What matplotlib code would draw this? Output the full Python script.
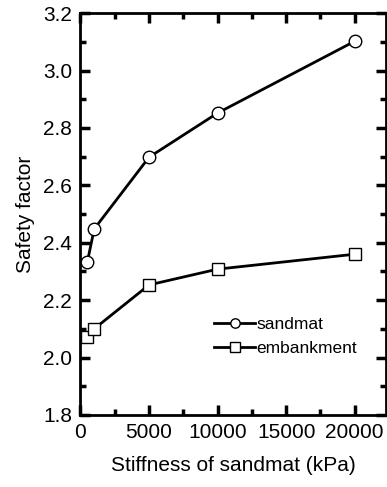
import matplotlib
matplotlib.use("Agg")
import matplotlib.pyplot as plt
from matplotlib.ticker import MultipleLocator

plt.rcParams["font.family"] = ["Liberation Sans", "DejaVu Sans"]

stiffness = [500, 1000, 5000, 10000, 20000]
sandmat = [2.333, 2.448, 2.698, 2.852, 3.102]
embankment = [2.072, 2.100, 2.253, 2.308, 2.360]

fig = plt.figure(figsize=(3.87, 4.87), dpi=100)
ax = fig.add_axes([0.208, 0.148, 0.79, 0.825])

ax.plot(stiffness, sandmat, "k-", marker="o", ms=9, mfc="white", mec="black",
        mew=1.0, lw=2, label="sandmat")
ax.plot(stiffness, embankment, "k-", marker="s", ms=9, mfc="white", mec="black",
        mew=1.0, lw=2, label="embankment")

ax.set_xlim(0, 22300)
ax.set_ylim(1.8, 3.2)
ax.xaxis.set_major_locator(MultipleLocator(5000))
ax.xaxis.set_minor_locator(MultipleLocator(2500))
ax.yaxis.set_major_locator(MultipleLocator(0.2))
ax.yaxis.set_minor_locator(MultipleLocator(0.1))
ax.yaxis.set_major_formatter(matplotlib.ticker.FormatStrFormatter("%.1f"))

ax.tick_params(which="both", direction="in", top=True, right=True, width=2.5,
               labelsize=15)
ax.tick_params(which="major", length=7)
ax.tick_params(which="minor", length=4)
ax.tick_params(axis="x", pad=6)
ax.tick_params(axis="y", pad=6)
for s in ax.spines.values():
    s.set_linewidth(2)

ax.set_xlabel("Stiffness of sandmat (kPa)", fontsize=15, labelpad=10)
ax.set_ylabel("Safety factor", fontsize=15, labelpad=6)

ax.legend(loc="center left", bbox_to_anchor=(0.385, 0.195), frameon=False,
          fontsize=12.5, handlelength=2.4, handletextpad=0.05, labelspacing=0.5,
          markerscale=0.75)

fig.savefig("out.png", dpi=100)
